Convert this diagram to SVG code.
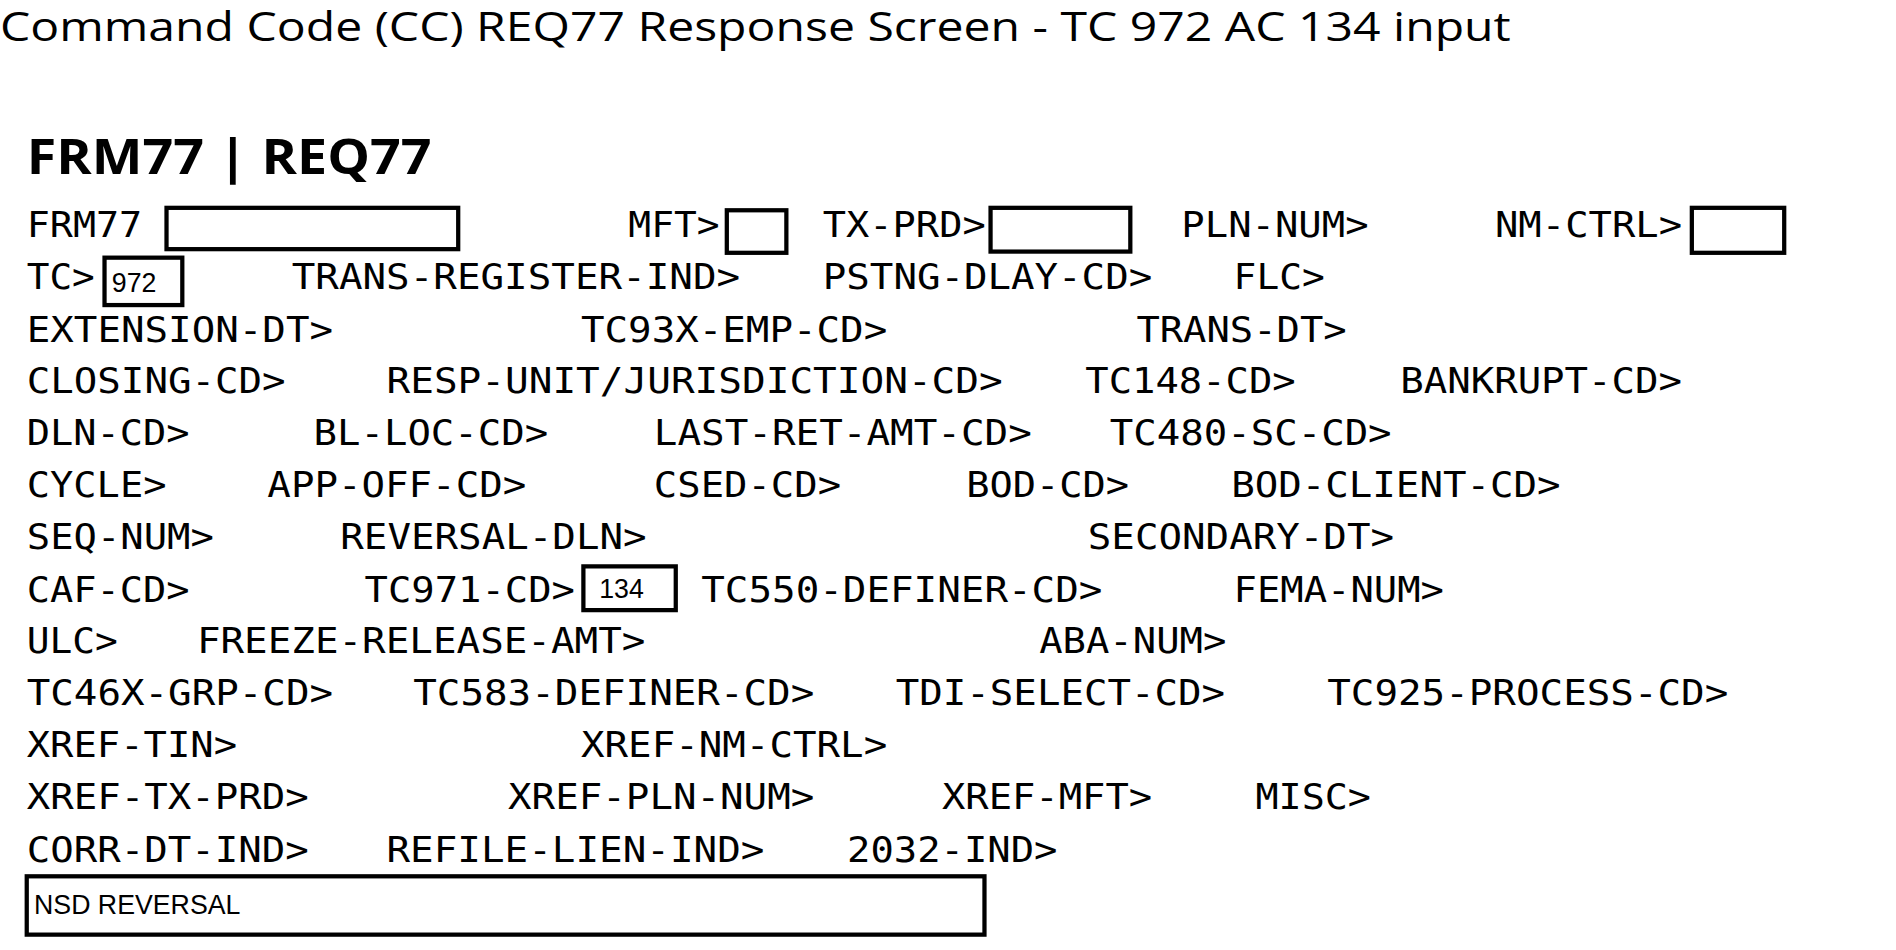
<svg xmlns="http://www.w3.org/2000/svg" width="1896" height="950" viewBox="0 0 1896 950">
<style>
.m{font-family:"DejaVu Sans Mono","Liberation Mono",monospace;font-size:29px;fill:#000}
.b{fill:none;stroke:#000;stroke-width:3.5}
.s{font-family:"Liberation Sans",Arial,sans-serif;font-size:22px;fill:#000}
</style>
<rect width="1896" height="950" fill="#fff"/>
<g transform="scale(1.2154)">
<text x="0" y="34" font-family="'Open Sans','Noto Sans',sans-serif" font-size="33" textLength="1243" lengthAdjust="spacingAndGlyphs">Command Code (CC) REQ77 Response Screen - TC 972 AC 134 input</text>
<text x="22" y="143" font-family="'Open Sans','Noto Sans',sans-serif" font-weight="bold" font-size="40" textLength="333" lengthAdjust="spacingAndGlyphs">FRM77 | REQ77</text>
<g id="fields" transform="translate(0,-2)">
<text class="m" x="22" y="197" textLength="95" lengthAdjust="spacingAndGlyphs">FRM77</text>
<text class="m" x="517" y="197" textLength="75" lengthAdjust="spacingAndGlyphs">MFT&gt;</text>
<text class="m" x="677" y="197" textLength="134" lengthAdjust="spacingAndGlyphs">TX-PRD&gt;</text>
<text class="m" x="972" y="197" textLength="154" lengthAdjust="spacingAndGlyphs">PLN-NUM&gt;</text>
<text class="m" x="1230" y="197" textLength="154" lengthAdjust="spacingAndGlyphs">NM-CTRL&gt;</text>

<text class="m" x="22" y="240" textLength="56" lengthAdjust="spacingAndGlyphs">TC&gt;</text>
<text class="m" x="240" y="240" textLength="369" lengthAdjust="spacingAndGlyphs">TRANS-REGISTER-IND&gt;</text>
<text class="m" x="677" y="240" textLength="271" lengthAdjust="spacingAndGlyphs">PSTNG-DLAY-CD&gt;</text>
<text class="m" x="1015" y="240" textLength="75" lengthAdjust="spacingAndGlyphs">FLC&gt;</text>

<text class="m" x="22" y="283" textLength="252" lengthAdjust="spacingAndGlyphs">EXTENSION-DT&gt;</text>
<text class="m" x="478" y="283" textLength="252" lengthAdjust="spacingAndGlyphs">TC93X-EMP-CD&gt;</text>
<text class="m" x="935" y="283" textLength="173" lengthAdjust="spacingAndGlyphs">TRANS-DT&gt;</text>

<text class="m" x="22" y="325" textLength="213" lengthAdjust="spacingAndGlyphs">CLOSING-CD&gt;</text>
<text class="m" x="318" y="325" textLength="507" lengthAdjust="spacingAndGlyphs">RESP-UNIT/JURISDICTION-CD&gt;</text>
<text class="m" x="893" y="325" textLength="173" lengthAdjust="spacingAndGlyphs">TC148-CD&gt;</text>
<text class="m" x="1152" y="325" textLength="232" lengthAdjust="spacingAndGlyphs">BANKRUPT-CD&gt;</text>

<text class="m" x="22" y="368" textLength="134" lengthAdjust="spacingAndGlyphs">DLN-CD&gt;</text>
<text class="m" x="258" y="368" textLength="193" lengthAdjust="spacingAndGlyphs">BL-LOC-CD&gt;</text>
<text class="m" x="538" y="368" textLength="311" lengthAdjust="spacingAndGlyphs">LAST-RET-AMT-CD&gt;</text>
<text class="m" x="913" y="368" textLength="232" lengthAdjust="spacingAndGlyphs">TC480-SC-CD&gt;</text>

<text class="m" x="22" y="411" textLength="115" lengthAdjust="spacingAndGlyphs">CYCLE&gt;</text>
<text class="m" x="220" y="411" textLength="213" lengthAdjust="spacingAndGlyphs">APP-OFF-CD&gt;</text>
<text class="m" x="538" y="411" textLength="154" lengthAdjust="spacingAndGlyphs">CSED-CD&gt;</text>
<text class="m" x="795" y="411" textLength="134" lengthAdjust="spacingAndGlyphs">BOD-CD&gt;</text>
<text class="m" x="1013" y="411" textLength="271" lengthAdjust="spacingAndGlyphs">BOD-CLIENT-CD&gt;</text>

<text class="m" x="22" y="454" textLength="154" lengthAdjust="spacingAndGlyphs">SEQ-NUM&gt;</text>
<text class="m" x="280" y="454" textLength="252" lengthAdjust="spacingAndGlyphs">REVERSAL-DLN&gt;</text>
<text class="m" x="895" y="454" textLength="252" lengthAdjust="spacingAndGlyphs">SECONDARY-DT&gt;</text>

<text class="m" x="22" y="497" textLength="134" lengthAdjust="spacingAndGlyphs">CAF-CD&gt;</text>
<text class="m" x="300" y="497" textLength="173" lengthAdjust="spacingAndGlyphs">TC971-CD&gt;</text>
<text class="m" x="577" y="497" textLength="330" lengthAdjust="spacingAndGlyphs">TC550-DEFINER-CD&gt;</text>
<text class="m" x="1015" y="497" textLength="173" lengthAdjust="spacingAndGlyphs">FEMA-NUM&gt;</text>

<text class="m" x="22" y="539" textLength="75" lengthAdjust="spacingAndGlyphs">ULC&gt;</text>
<text class="m" x="162" y="539" textLength="369" lengthAdjust="spacingAndGlyphs">FREEZE-RELEASE-AMT&gt;</text>
<text class="m" x="855" y="539" textLength="154" lengthAdjust="spacingAndGlyphs">ABA-NUM&gt;</text>

<text class="m" x="22" y="582" textLength="252" lengthAdjust="spacingAndGlyphs">TC46X-GRP-CD&gt;</text>
<text class="m" x="340" y="582" textLength="330" lengthAdjust="spacingAndGlyphs">TC583-DEFINER-CD&gt;</text>
<text class="m" x="737" y="582" textLength="271" lengthAdjust="spacingAndGlyphs">TDI-SELECT-CD&gt;</text>
<text class="m" x="1092" y="582" textLength="330" lengthAdjust="spacingAndGlyphs">TC925-PROCESS-CD&gt;</text>

<text class="m" x="22" y="625" textLength="173" lengthAdjust="spacingAndGlyphs">XREF-TIN&gt;</text>
<text class="m" x="478" y="625" textLength="252" lengthAdjust="spacingAndGlyphs">XREF-NM-CTRL&gt;</text>

<text class="m" x="22" y="668" textLength="232" lengthAdjust="spacingAndGlyphs">XREF-TX-PRD&gt;</text>
<text class="m" x="418" y="668" textLength="252" lengthAdjust="spacingAndGlyphs">XREF-PLN-NUM&gt;</text>
<text class="m" x="775" y="668" textLength="173" lengthAdjust="spacingAndGlyphs">XREF-MFT&gt;</text>
<text class="m" x="1033" y="668" textLength="95" lengthAdjust="spacingAndGlyphs">MISC&gt;</text>

<text class="m" x="22" y="711" textLength="232" lengthAdjust="spacingAndGlyphs">CORR-DT-IND&gt;</text>
<text class="m" x="318" y="711" textLength="311" lengthAdjust="spacingAndGlyphs">REFILE-LIEN-IND&gt;</text>
<text class="m" x="697" y="711" textLength="173" lengthAdjust="spacingAndGlyphs">2032-IND&gt;</text>
</g>
<g id="boxes">
<rect class="b" x="137" y="171" width="240" height="34"/>
<rect class="b" x="598" y="173" width="49" height="35"/>
<rect class="b" x="815" y="171" width="115" height="36"/>
<rect class="b" x="1392" y="171" width="76" height="37"/>
<rect class="b" x="86" y="212" width="64" height="39"/>
<text class="s" x="92" y="240">972</text>
<rect class="b" x="480" y="466" width="76" height="36"/>
<text class="s" x="493" y="492">134</text>
<rect class="b" x="22" y="721" width="788" height="48"/>
<text class="s" x="28" y="752">NSD REVERSAL</text>
</g>
</g>
</svg>
